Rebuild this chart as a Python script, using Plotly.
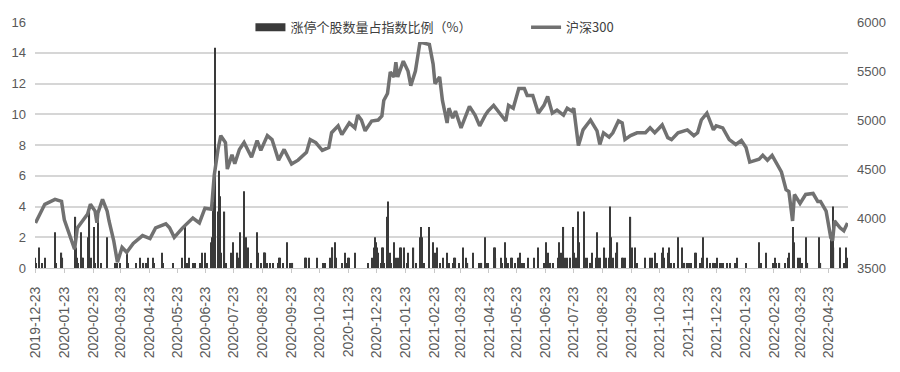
import plotly.graph_objects as go

# ---------------- data ----------------
tick_labels = ["2019-12-23", "2020-01-23", "2020-02-23", "2020-03-23", "2020-04-23", "2020-05-23",
               "2020-06-23", "2020-07-23", "2020-08-23", "2020-09-23", "2020-10-23", "2020-11-23",
               "2020-12-23", "2021-01-23", "2021-02-23", "2021-03-23", "2021-04-23", "2021-05-23",
               "2021-06-23", "2021-07-23", "2021-08-23", "2021-09-23", "2021-10-23", "2021-11-23",
               "2021-12-23", "2022-01-23", "2022-02-23", "2022-03-23", "2022-04-23"]

hs300_dates = [
    "2019-12-23", "2020-01-02", "2020-01-13", "2020-01-20", "2020-01-23", "2020-02-03", "2020-02-06",
    "2020-02-17", "2020-02-20", "2020-02-25", "2020-02-27", "2020-02-28", "2020-03-04", "2020-03-09",
    "2020-03-11", "2020-03-16", "2020-03-20", "2020-03-25", "2020-03-30", "2020-04-06", "2020-04-16",
    "2020-04-24", "2020-04-30", "2020-05-11", "2020-05-15", "2020-05-20", "2020-05-29", "2020-06-09",
    "2020-06-16", "2020-06-22", "2020-06-29", "2020-07-02", "2020-07-06", "2020-07-09", "2020-07-14",
    "2020-07-16", "2020-07-21", "2020-07-24", "2020-07-29", "2020-08-03", "2020-08-11", "2020-08-17",
    "2020-08-21", "2020-08-28", "2020-09-02", "2020-09-09", "2020-09-15", "2020-09-23", "2020-09-30",
    "2020-10-09", "2020-10-13", "2020-10-19", "2020-10-26", "2020-11-02", "2020-11-05", "2020-11-12",
    "2020-11-16", "2020-11-24", "2020-11-30", "2020-12-03", "2020-12-07", "2020-12-11", "2020-12-18",
    "2020-12-25", "2020-12-29", "2020-12-31", "2021-01-04", "2021-01-07", "2021-01-11", "2021-01-13",
    "2021-01-15", "2021-01-21", "2021-01-26", "2021-01-29", "2021-02-03", "2021-02-08", "2021-02-10",
    "2021-02-18", "2021-02-22", "2021-02-24", "2021-03-01", "2021-03-04", "2021-03-09", "2021-03-11",
    "2021-03-15", "2021-03-18", "2021-03-24", "2021-03-29", "2021-04-02", "2021-04-08", "2021-04-13",
    "2021-04-19", "2021-04-22", "2021-04-28", "2021-05-06", "2021-05-11", "2021-05-14", "2021-05-19",
    "2021-05-25", "2021-05-31", "2021-06-03", "2021-06-09", "2021-06-15", "2021-06-21", "2021-06-25",
    "2021-06-30", "2021-07-05", "2021-07-12", "2021-07-16", "2021-07-21", "2021-07-23", "2021-07-28",
    "2021-07-30", "2021-08-02", "2021-08-10", "2021-08-17", "2021-08-20", "2021-08-24", "2021-08-30",
    "2021-09-03", "2021-09-09", "2021-09-13", "2021-09-16", "2021-09-22", "2021-09-29", "2021-10-08",
    "2021-10-13", "2021-10-18", "2021-10-26", "2021-11-01", "2021-11-05", "2021-11-12", "2021-11-22",
    "2021-11-29", "2021-12-03", "2021-12-07", "2021-12-13", "2021-12-20", "2021-12-23", "2021-12-30",
    "2022-01-06", "2022-01-13", "2022-01-19", "2022-01-24", "2022-01-28", "2022-02-07", "2022-02-11",
    "2022-02-16", "2022-02-21", "2022-02-25", "2022-03-03", "2022-03-08", "2022-03-11", "2022-03-15",
    "2022-03-17", "2022-03-23", "2022-03-29", "2022-04-06", "2022-04-11", "2022-04-14", "2022-04-20",
    "2022-04-25", "2022-04-27", "2022-04-29", "2022-05-05", "2022-05-09", "2022-05-13"]
hs300_values = [
    3958, 4147, 4197, 4177, 3990, 3690, 3908,
    4048, 4147, 4078, 3960, 4058, 4197, 4078,
    3978, 3779, 3560, 3709, 3660, 3749, 3829,
    3799, 3908, 3948, 3908, 3812, 3908, 4008,
    3958, 4108, 4098, 4446, 4705, 4845, 4775,
    4506, 4650, 4560, 4705, 4775, 4625, 4795,
    4695, 4845, 4805, 4596, 4705, 4556, 4596,
    4675, 4805, 4775, 4695, 4725, 4875, 4944,
    4855, 4974, 4924, 5054, 5004, 4894, 4994,
    5004, 5044, 5203, 5273, 5492, 5442, 5592,
    5442, 5602, 5502, 5353, 5502, 5801, 5790,
    5771, 5572, 5373, 5442, 5203, 4974, 5124,
    5024, 5094, 4924, 5054, 5143, 5054, 4944,
    5054, 5094, 5153, 5054, 4994, 5153, 5124,
    5323, 5323, 5253, 5253, 5074, 5153, 5243,
    5074, 5104, 5054, 5124, 5094, 5124, 4745,
    4805, 4904, 5004, 4894, 4755, 4874, 4830,
    4874, 4994, 4974, 4805, 4845, 4874, 4874,
    4924, 4874, 4954, 4825, 4805, 4874, 4904,
    4845, 4874, 5004, 5074, 4904, 4944, 4924,
    4805, 4755, 4795, 4725, 4576, 4606, 4645,
    4596, 4645, 4576, 4476, 4297, 4277, 3978,
    4247, 4157, 4247, 4257, 4177, 4177, 4078,
    3809, 3779, 3978, 3908, 3878, 3958]

limitup_dates = [
    "2019-12-23", "2019-12-24", "2019-12-27", "2019-12-30", "2020-01-02", "2020-01-13", "2020-01-14",
    "2020-01-20", "2020-01-21", "2020-02-03", "2020-02-04", "2020-02-05", "2020-02-06", "2020-02-07",
    "2020-02-10", "2020-02-11", "2020-02-12", "2020-02-17", "2020-02-18", "2020-02-19", "2020-02-21",
    "2020-02-24", "2020-02-25", "2020-02-28", "2020-03-02", "2020-03-09", "2020-03-18", "2020-03-20",
    "2020-03-23", "2020-03-30", "2020-03-31", "2020-04-09", "2020-04-13", "2020-04-17", "2020-04-20",
    "2020-04-22", "2020-04-27", "2020-04-28", "2020-05-07", "2020-05-08", "2020-05-19", "2020-05-28",
    "2020-06-01", "2020-06-03", "2020-06-05", "2020-06-09", "2020-06-11", "2020-06-17", "2020-06-19",
    "2020-06-22", "2020-06-24", "2020-06-29", "2020-06-30", "2020-07-01", "2020-07-02", "2020-07-03",
    "2020-07-06", "2020-07-07", "2020-07-08", "2020-07-09", "2020-07-13", "2020-07-15", "2020-07-20",
    "2020-07-22", "2020-07-27", "2020-07-28", "2020-07-30", "2020-08-03", "2020-08-05", "2020-08-07",
    "2020-08-10", "2020-08-17", "2020-08-18", "2020-08-21", "2020-08-24", "2020-08-25", "2020-08-26",
    "2020-08-28", "2020-08-31", "2020-09-03", "2020-09-09", "2020-09-10", "2020-09-11", "2020-09-14",
    "2020-09-18", "2020-09-21", "2020-09-22", "2020-09-24", "2020-10-08", "2020-10-09", "2020-10-12",
    "2020-10-20", "2020-10-27", "2020-10-29", "2020-11-03", "2020-11-05", "2020-11-06", "2020-11-09",
    "2020-11-10", "2020-11-16", "2020-11-19", "2020-11-20", "2020-11-23", "2020-11-24", "2020-11-30",
    "2020-12-14", "2020-12-18", "2020-12-21", "2020-12-22", "2020-12-23", "2020-12-24", "2020-12-25",
    "2020-12-28", "2020-12-29", "2020-12-30", "2020-12-31", "2021-01-04", "2021-01-05", "2021-01-06",
    "2021-01-07", "2021-01-08", "2021-01-11", "2021-01-13", "2021-01-15", "2021-01-18", "2021-01-19",
    "2021-01-22", "2021-01-25", "2021-01-26", "2021-02-01", "2021-02-04", "2021-02-08", "2021-02-09",
    "2021-02-10", "2021-02-12", "2021-02-18", "2021-02-22", "2021-02-23", "2021-02-25", "2021-02-26",
    "2021-03-01", "2021-03-05", "2021-03-09", "2021-03-11", "2021-03-15", "2021-03-16", "2021-03-18",
    "2021-03-22", "2021-03-26", "2021-03-29", "2021-03-31", "2021-04-06", "2021-04-12", "2021-04-13",
    "2021-04-15", "2021-04-19", "2021-04-20", "2021-04-22", "2021-04-28", "2021-04-29", "2021-04-30",
    "2021-05-06", "2021-05-07", "2021-05-10", "2021-05-11", "2021-05-13", "2021-05-17", "2021-05-18",
    "2021-05-21", "2021-05-24", "2021-05-25", "2021-05-26", "2021-05-28", "2021-05-31", "2021-06-04",
    "2021-06-10", "2021-06-15", "2021-06-21", "2021-06-23", "2021-06-25", "2021-06-28", "2021-07-01",
    "2021-07-06", "2021-07-07", "2021-07-09", "2021-07-12", "2021-07-14", "2021-07-16", "2021-07-19",
    "2021-07-22", "2021-07-23", "2021-07-26", "2021-07-28", "2021-07-29", "2021-08-03", "2021-08-04",
    "2021-08-06", "2021-08-10", "2021-08-12", "2021-08-16", "2021-08-17", "2021-08-18", "2021-08-20",
    "2021-08-25", "2021-08-27", "2021-08-30", "2021-08-31", "2021-09-01", "2021-09-03", "2021-09-06",
    "2021-09-08", "2021-09-13", "2021-09-14", "2021-09-16", "2021-09-22", "2021-09-24", "2021-09-27",
    "2021-09-29", "2021-10-08", "2021-10-13", "2021-10-15", "2021-10-18", "2021-10-20", "2021-10-26",
    "2021-10-27", "2021-10-28", "2021-11-01", "2021-11-02", "2021-11-04", "2021-11-08", "2021-11-12",
    "2021-11-16", "2021-11-19", "2021-11-22", "2021-11-24", "2021-11-26", "2021-11-30", "2021-12-01",
    "2021-12-06", "2021-12-08", "2021-12-09", "2021-12-13", "2021-12-16", "2021-12-20", "2021-12-22",
    "2021-12-24", "2021-12-27", "2021-12-28", "2021-12-29", "2021-12-30", "2022-01-04", "2022-01-07",
    "2022-01-12", "2022-01-14", "2022-01-24", "2022-02-07", "2022-02-09", "2022-02-14", "2022-02-22",
    "2022-02-24", "2022-02-25", "2022-03-01", "2022-03-07", "2022-03-10", "2022-03-11", "2022-03-15",
    "2022-03-17", "2022-03-21", "2022-03-23", "2022-03-25", "2022-03-29", "2022-03-31", "2022-04-12",
    "2022-04-14", "2022-04-25", "2022-04-27", "2022-04-28", "2022-05-05", "2022-05-09", "2022-05-11",
    "2022-05-13"]
limitup_values = [
    0.67, 0.33, 1.33, 0.33, 0.67, 2.33, 0.33,
    1.00, 0.67, 3.00, 3.33, 1.33, 0.67, 0.33,
    2.33, 0.67, 0.67, 2.00, 0.67, 3.67, 0.67,
    2.67, 0.33, 3.67, 0.33, 2.00, 0.33, 0.33,
    0.33, 1.00, 0.33, 0.33, 0.67, 0.33, 0.33,
    0.67, 0.67, 0.33, 1.00, 0.33, 0.33, 0.67,
    2.67, 0.33, 0.67, 0.33, 0.33, 0.33, 1.00,
    1.00, 0.33, 1.67, 2.00, 4.33, 0.67, 14.33,
    3.67, 6.33, 4.67, 1.00, 3.67, 0.33, 1.00,
    1.67, 1.00, 0.67, 2.33, 5.00, 2.00, 1.33,
    0.33, 2.33, 1.00, 0.33, 1.00, 1.00, 1.00,
    0.33, 0.33, 0.33, 0.33, 0.67, 0.67, 0.33,
    1.67, 0.33, 0.33, 0.33, 0.67, 0.67, 0.67,
    0.67, 0.33, 0.33, 0.67, 1.33, 1.33, 1.67,
    0.67, 0.33, 1.00, 0.33, 0.67, 0.67, 1.00,
    0.33, 0.67, 1.33, 2.00, 1.67, 1.33, 1.00,
    0.33, 1.33, 1.33, 0.33, 3.33, 4.33, 0.33,
    1.00, 0.33, 1.67, 0.67, 0.67, 1.33, 1.33,
    1.33, 0.33, 1.00, 1.33, 0.33, 2.00, 2.67,
    2.00, 0.33, 2.67, 1.67, 1.00, 1.00, 1.33,
    0.33, 0.67, 1.00, 0.33, 0.33, 0.67, 0.67,
    0.33, 1.33, 0.67, 0.33, 1.00, 0.33, 0.33,
    0.33, 2.00, 0.33, 0.33, 1.33, 1.33, 0.67,
    0.67, 0.33, 1.67, 0.67, 0.33, 0.67, 0.67,
    0.33, 0.67, 0.67, 1.00, 0.33, 0.33, 0.67,
    0.67, 1.33, 0.33, 1.67, 1.00, 0.33, 0.33,
    0.67, 1.67, 1.00, 2.67, 0.67, 0.67, 0.67,
    2.67, 1.00, 0.67, 3.67, 1.67, 3.67, 0.67,
    0.67, 0.33, 1.00, 0.67, 2.33, 0.67, 0.67,
    1.33, 0.67, 0.67, 4.00, 2.00, 0.67, 1.00,
    1.67, 0.67, 0.67, 0.67, 3.33, 1.33, 1.33,
    0.33, 0.67, 0.67, 0.67, 1.00, 0.33, 1.00,
    1.33, 0.67, 1.00, 1.33, 0.33, 0.33, 2.00,
    1.33, 0.33, 0.33, 0.33, 0.33, 1.00, 1.00,
    0.33, 0.67, 2.00, 0.67, 0.33, 0.33, 0.33,
    0.67, 0.33, 0.33, 0.33, 0.33, 0.33, 0.33,
    0.33, 0.67, 0.33, 1.67, 0.33, 1.00, 0.33,
    0.67, 0.33, 0.33, 0.33, 0.67, 1.00, 2.67,
    1.67, 0.67, 0.67, 0.33, 2.00, 0.33, 2.00,
    0.33, 2.00, 4.00, 1.33, 1.33, 0.33, 1.33,
    0.67]

bar_name = "涨停个股数量占指数比例（%）"
line_name = "沪深300"

# ---------------- styles ----------------
BAR_COLOR = "#3a3a3a"
LINE_COLOR = "#717171"
TEXT_COLOR = "#595959"
GRID_COLOR = "#d6d6d6"
FONT = "Liberation Sans, Arial, sans-serif"
CJK = "Noto Sans CJK SC, sans-serif"
DAY_MS = 86400000

fig = go.Figure()

fig.add_trace(go.Bar(
    x=limitup_dates, y=limitup_values, name=bar_name,
    marker=dict(color=BAR_COLOR, line=dict(width=0)),
    width=[1.25 * DAY_MS] * len(limitup_dates),
    showlegend=False, yaxis="y"))

# legend-only entry for the bars (wide flat swatch like the original)
fig.add_trace(go.Scatter(
    x=[None], y=[None], mode="lines", name=bar_name,
    line=dict(color=BAR_COLOR, width=8), legend="legend", yaxis="y"))

fig.add_trace(go.Scatter(
    x=hs300_dates, y=hs300_values, name=line_name, mode="lines",
    line=dict(color=LINE_COLOR, width=3.5), yaxis="y2", legend="legend2"))

fig.update_layout(
    width=900, height=372,
    margin=dict(l=33, r=52, t=17, b=104),
    paper_bgcolor="white", plot_bgcolor="white",
    font=dict(family=FONT, color=TEXT_COLOR, size=13),
    barmode="overlay",
    xaxis=dict(
        type="date",
        range=["2019-12-22 12:00", "2022-05-13 12:00"],
        tickmode="array", tickvals=tick_labels, ticktext=tick_labels,
        tickangle=-90, tickfont=dict(size=14, color=TEXT_COLOR, family=FONT),
        showgrid=False, zeroline=False,
        showline=True, linecolor="#c8c8c8", linewidth=1,
        ticks="outside", ticklen=4, tickcolor="#c8c8c8",
        ticklabelstandoff=8,
    ),
    yaxis=dict(
        range=[0, 16], dtick=2, tick0=0,
        showgrid=True, gridcolor=GRID_COLOR, gridwidth=1.5,
        zeroline=False, showline=False, ticks="",
        tickfont=dict(size=13, color=TEXT_COLOR, family=FONT),
        ticklabelstandoff=8,
    ),
    yaxis2=dict(
        overlaying="y", side="right",
        range=[3500, 6000], dtick=500, tick0=3500,
        showgrid=False, zeroline=False, showline=False, ticks="",
        tickfont=dict(size=13, color=TEXT_COLOR, family=FONT),
        ticklabelstandoff=8,
    ),
    legend=dict(
        orientation="h", x=0.265, xanchor="left", y=0.978, yanchor="middle",
        bgcolor="white", font=dict(family=CJK, size=13, color="#404040"),
        itemwidth=30, tracegroupgap=0,
    ),
    legend2=dict(
        orientation="h", x=0.604, xanchor="left", y=0.978, yanchor="middle",
        bgcolor="white", font=dict(family=CJK, size=13, color="#404040"),
        itemwidth=30,
    ),
)

fig.write_html("out.html")
